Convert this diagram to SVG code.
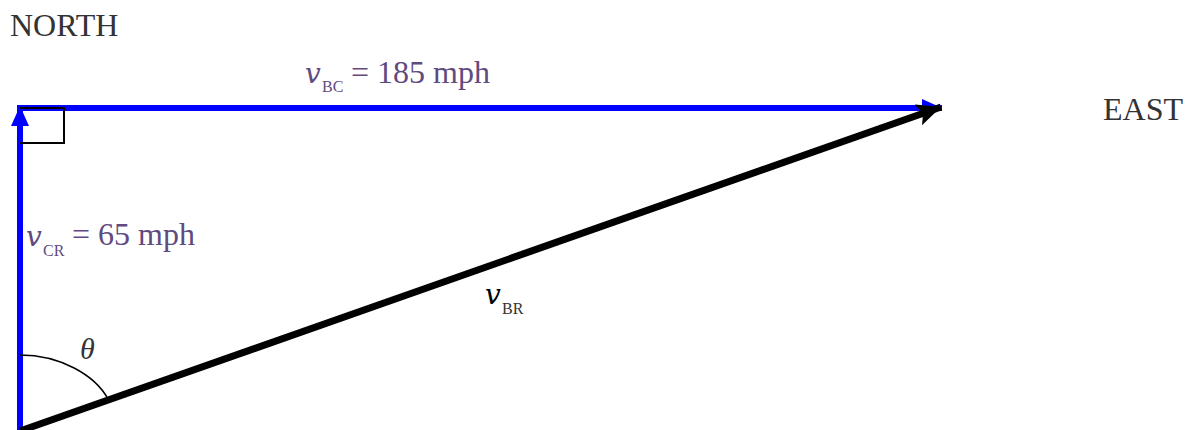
<svg xmlns="http://www.w3.org/2000/svg" width="1190" height="430" viewBox="0 0 1190 430">
<style>
.lbl{font-family:"Liberation Serif",serif;fill:#333;font-size:32px}
.pur{font-family:"Liberation Serif",serif;fill:#5f4b7f}
.v{font-family:"DejaVu Serif",serif;font-style:italic}
.blue{stroke:#0000ff;stroke-width:6;fill:none}
</style>
<defs>
<marker id="ab" markerUnits="userSpaceOnUse" markerWidth="24" markerHeight="24" refX="20" refY="9" orient="auto"><path d="M0,0 L20,9 L0,18 Z" fill="#0000ff"/></marker>
<marker id="ak" markerUnits="userSpaceOnUse" markerWidth="28" markerHeight="28" refX="24" refY="11" orient="auto"><path d="M0,0 L24,11 L0,22 L5,11 Z" fill="#000"/></marker>
</defs>
<g id="connectors">
<line x1="17" y1="108" x2="942" y2="108" class="blue" marker-end="url(#ab)"/>
<line x1="20" y1="430" x2="20" y2="106" class="blue" marker-end="url(#ab)"/>
<path d="M20,108 H64 V143 H20" fill="none" stroke="#000" stroke-width="2"/>
<line x1="20" y1="431" x2="941" y2="107" stroke="#000" stroke-width="7" marker-end="url(#ak)"/>
<path d="M20,355 C60,355 95,375 108,399" fill="none" stroke="#000" stroke-width="1.5"/>
</g>
<g id="north"><text class="lbl" x="10" y="36">NORTH</text></g>
<g id="east"><text class="lbl" x="1103" y="120">EAST</text></g>
<g id="vbc"><text class="pur v" x="305" y="83" font-size="28">v</text><text class="pur" x="322" y="92" font-size="16">BC</text><text class="pur" x="351" y="83" font-size="32">= 185 mph</text></g>
<g id="vcr"><text class="pur v" x="26" y="246" font-size="28">v</text><text class="pur" x="43" y="256" font-size="16">CR</text><text class="pur" x="72" y="245" font-size="32">= 65 mph</text></g>
<g id="vbr"><text x="485" y="304" font-family="DejaVu Serif,serif" font-size="28" font-style="italic" fill="#000">v</text><text x="502" y="314" font-family="Liberation Serif,serif" font-size="16" fill="#333">BR</text></g>
<g id="theta"><text x="80" y="359" font-family="Liberation Serif,serif" font-size="30" font-style="italic" fill="#333">θ</text></g>
</svg>
